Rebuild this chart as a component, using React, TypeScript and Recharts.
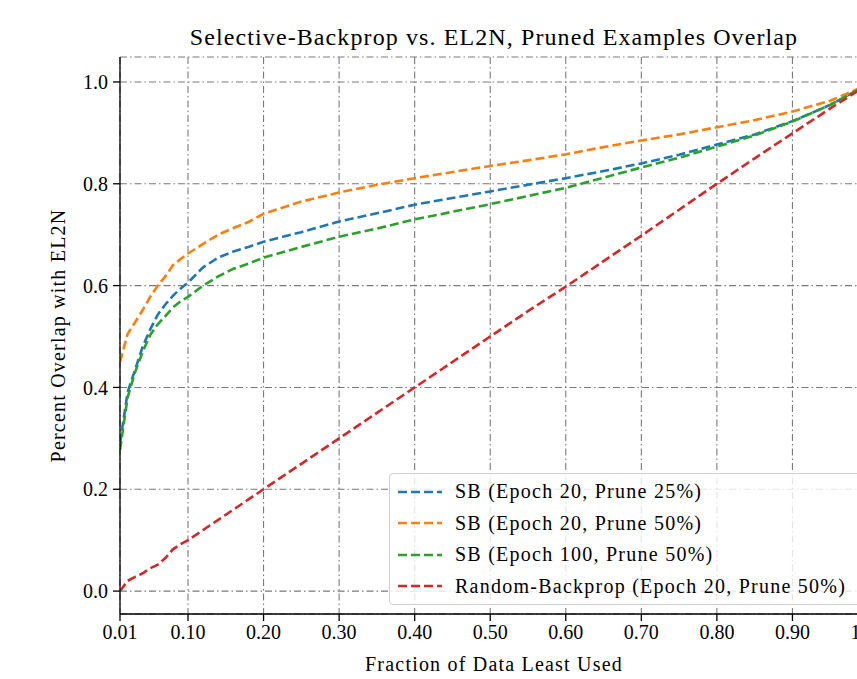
import React from 'react';
import { LineChart, Line, XAxis, YAxis, CartesianGrid, Legend, Label } from 'recharts';

// fraction of data least used
const fractions = [
  0.01, 0.02, 0.03, 0.04, 0.05, 0.06, 0.07, 0.08, 0.09, 0.1,
  0.12, 0.14, 0.16, 0.18, 0.2, 0.25, 0.3, 0.35, 0.4, 0.45,
  0.5, 0.55, 0.6, 0.65, 0.7, 0.75, 0.8, 0.85, 0.9, 0.95, 1.0,
];

const sbE20P25 = [
  0.29, 0.39, 0.435, 0.48, 0.514, 0.543, 0.563, 0.58, 0.594, 0.606,
  0.636, 0.655, 0.667, 0.676, 0.686, 0.705, 0.726, 0.742, 0.759, 0.772,
  0.785, 0.798, 0.811, 0.825, 0.84, 0.857, 0.877, 0.897, 0.923, 0.955, 0.995,
];

const sbE20P50 = [
  0.45, 0.505, 0.528, 0.552, 0.578, 0.6, 0.618, 0.64, 0.652, 0.663,
  0.682, 0.7, 0.713, 0.725, 0.741, 0.765, 0.783, 0.798, 0.811, 0.823,
  0.835, 0.846, 0.858, 0.872, 0.885, 0.897, 0.911, 0.925, 0.942, 0.963, 0.995,
];

const sbE100P50 = [
  0.277, 0.38, 0.43, 0.47, 0.503, 0.524, 0.54, 0.557, 0.569, 0.578,
  0.6, 0.618, 0.633, 0.643, 0.655, 0.676, 0.696, 0.712, 0.73, 0.745,
  0.76, 0.776, 0.792, 0.812, 0.832, 0.851, 0.873, 0.895, 0.922, 0.955, 0.995,
];

const randomE20P50 = [
  0.0, 0.02, 0.028, 0.035, 0.045, 0.052, 0.065, 0.082, 0.092, 0.1,
  0.12, 0.14, 0.16, 0.18, 0.2, 0.25, 0.3, 0.35, 0.4, 0.45,
  0.5, 0.55, 0.598, 0.648, 0.698, 0.749, 0.8, 0.85, 0.899, 0.948, 0.995,
];

const xTicks = [0.01, 0.1, 0.2, 0.3, 0.4, 0.5, 0.6, 0.7, 0.8, 0.9, 1.0];
const yTicks = [0, 0.2, 0.4, 0.6, 0.8, 1.0];

const series = [
  { key: 'sb1', name: 'SB (Epoch 20, Prune 25%)', color: '#1f77b4' },
  { key: 'sb2', name: 'SB (Epoch 20, Prune 50%)', color: '#ff7f0e' },
  { key: 'sb3', name: 'SB (Epoch 100, Prune 50%)', color: '#2ca02c' },
  { key: 'rb', name: 'Random-Backprop (Epoch 20, Prune 50%)', color: '#d62728' },
];

const data = fractions.map((x, i) => ({
  x,
  sb1: sbE20P25[i],
  sb2: sbE20P50[i],
  sb3: sbE100P50[i],
  rb: randomE20P50[i],
}));

const FONT = '"Liberation Serif", "DejaVu Serif", serif';
const DASH = '9 4';
const GRID_DASH = '7 3 1.5 3';

const LegendBox = () => (
  <div
    style={{
      background: 'rgba(255,255,255,0.8)',
      border: '1px solid #d0d0d0',
      borderRadius: 4,
      padding: '2px 8px 2px 8px',
      fontFamily: FONT,
      fontSize: 20,
      letterSpacing: 1.25,
      color: '#000',
      width: 472,
      boxSizing: 'border-box',
    }}
  >
    {series.map((s) => (
      <div key={s.key} style={{ display: 'flex', alignItems: 'center', height: 31.5, whiteSpace: 'nowrap' }}>
        <svg width={44} height={6} style={{ marginRight: 13 }}>
          <line x1={0} y1={3} x2={44} y2={3} stroke={s.color} strokeWidth={2.5} strokeDasharray={DASH} />
        </svg>
        <span>{s.name}</span>
      </div>
    ))}
  </div>
);

export default function App() {
  return (
    <div style={{ position: 'absolute', left: 0, top: 0, width: 857, height: 679, overflow: 'hidden', background: '#fff' }}>
      <div
        style={{
          position: 'absolute',
          top: 23,
          left: 0,
          width: 988,
          textAlign: 'center',
          fontFamily: FONT,
          fontSize: 24,
          letterSpacing: 1.1,
          lineHeight: '28px',
          color: '#000',
          whiteSpace: 'nowrap',
        }}
      >
        Selective-Backprop vs. EL2N, Pruned Examples Overlap
      </div>
      <LineChart
        width={900}
        height={679}
        data={data}
        margin={{ top: 57, right: 32, left: 0, bottom: 0 }}
        style={{ fontFamily: FONT }}
      >
        <CartesianGrid stroke="#7a7a7a" strokeDasharray={GRID_DASH} strokeWidth={1.1} />
        <XAxis
          dataKey="x"
          type="number"
          domain={[0.01, 1.0]}
          ticks={xTicks}
          allowDataOverflow
          tickFormatter={(v: number) => v.toFixed(2)}
          height={65}
          tickSize={7}
          tickMargin={4}
          axisLine={{ stroke: '#000', strokeWidth: 1.3 }}
          tickLine={{ stroke: '#000', strokeWidth: 1.3 }}
          tick={{ fill: '#000', fontSize: 20, fontFamily: FONT }}
        >
          <Label
            value="Fraction of Data Least Used"
            position="insideBottom"
            offset={8}
            style={{ fill: '#000', fontSize: 20, letterSpacing: 1.2, fontFamily: FONT }}
          />
        </XAxis>
        <XAxis
          xAxisId="top"
          dataKey="x"
          type="number"
          orientation="top"
          domain={[0.01, 1.0]}
          height={0}
          tick={false}
          tickLine={false}
          axisLine={{ stroke: '#000', strokeWidth: 1.3 }}
        />
        <YAxis
          type="number"
          domain={[-0.045, 1.049]}
          ticks={yTicks}
          allowDataOverflow
          tickFormatter={(v: number) => v.toFixed(1)}
          width={120}
          tickSize={7}
          tickMargin={5}
          axisLine={{ stroke: '#000', strokeWidth: 1.3 }}
          tickLine={{ stroke: '#000', strokeWidth: 1.3 }}
          tick={{ fill: '#000', fontSize: 20, fontFamily: FONT }}
        >
          <Label
            value="Percent Overlap with EL2N"
            angle={-90}
            position="insideLeft"
            offset={58}
            style={{ textAnchor: 'middle', fill: '#000', fontSize: 20, letterSpacing: 1.2, fontFamily: FONT }}
          />
        </YAxis>
        <Legend
          layout="vertical"
          align="center"
          verticalAlign="middle"
          content={() => <LegendBox />}
          wrapperStyle={{ left: 389, top: 473, width: 472 }}
        />
        {series.map((s) => (
          <Line
            key={s.key}
            dataKey={s.key}
            name={s.name}
            type="linear"
            stroke={s.color}
            strokeWidth={2.6}
            strokeDasharray={DASH}
            dot={false}
            activeDot={false}
            isAnimationActive={false}
          />
        ))}
      </LineChart>
    </div>
  );
}
